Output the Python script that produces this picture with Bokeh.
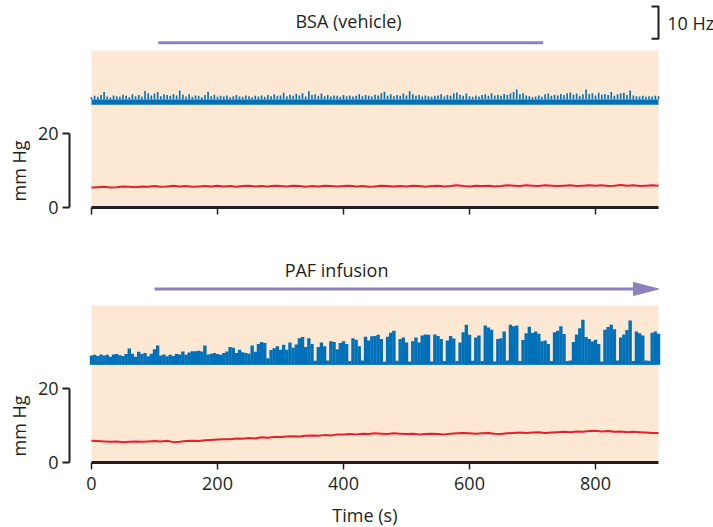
from bokeh.plotting import figure
from bokeh.models import Range1d, FixedTicker, Title
from bokeh.layouts import column
from bokeh.embed import file_html
from bokeh.resources import INLINE
from bokeh.core.properties import value

FONT = "Open Sans"
INK = "#231f20"
PEACH = "#fde8d3"
BLUE = "#0071b9"
RED = "#e4202a"
PURPLE = "#8a83c0"

# ---------------- data ----------------
T_MAX = 900
x_ticks = [0, 200, 400, 600, 800]
y_ticks = [0, 20]
bg_top = 42.4                     # top of the shaded recording window (panel units)

blue_t = list(range(0, 905, 5))   # frequency trace samples (s)
# vehicle (BSA) frequency trace: spike tops above the steady band
top_band = (27.8, 29.2)
top_blue = [
    29.8, 30.2, 29.9, 30.4, 31.2, 30.0, 29.7, 30.3, 30.1, 29.9,
    30.5, 30.2, 29.8, 30.6, 30.1, 30.4, 30.0, 31.5, 30.9, 30.3,
    30.8, 31.2, 30.1, 30.6, 30.4, 30.2, 30.7, 30.3, 31.6, 30.5,
    30.0, 30.6, 29.9, 30.3, 30.2, 29.8, 30.4, 31.3, 30.1, 30.5,
    29.9, 30.2, 30.0, 30.3, 29.8, 30.1, 30.4, 30.0, 29.9, 30.3,
    30.1, 29.8, 30.2, 30.0, 30.3, 29.9, 30.4, 30.1, 30.6, 30.2,
    30.3, 31.0, 30.1, 30.5, 30.2, 30.7, 30.3, 30.9, 30.0, 31.4,
    30.4, 30.6, 30.2, 30.8, 30.1, 30.4, 30.0, 30.3, 30.2, 29.9,
    30.4, 30.1, 30.3, 30.0, 30.2, 30.6, 30.1, 30.4, 30.2, 30.0,
    30.5, 30.3, 30.9, 31.3, 30.2, 30.6, 30.1, 30.4, 30.2, 30.8,
    30.3, 31.4, 30.6, 30.2, 30.4, 30.0, 30.3, 30.1, 29.9, 30.2,
    30.3, 30.6, 30.0, 30.4, 30.2, 30.9, 31.1, 30.5, 30.2, 30.8,
    30.1, 29.9, 30.3, 30.0, 30.4, 30.6, 30.2, 30.9, 30.3, 30.5,
    30.2, 30.7, 30.4, 30.8, 31.2, 31.9, 30.6, 30.9, 30.3, 30.1,
    29.8, 30.0, 30.3, 29.9, 30.6, 30.8, 30.2, 30.5, 30.3, 30.7,
    30.4, 30.9, 31.1, 30.5, 30.8, 30.2, 30.6, 31.9, 30.7, 30.9,
    30.3, 31.0, 30.5, 30.7, 30.4, 31.2, 30.2, 30.6, 30.9, 31.0,
    30.4, 31.6, 30.3, 30.1, 30.0, 30.2, 29.9, 30.1, 30.0, 30.2,
    30.1,
]
# PAF infusion frequency trace: burst tops above the baseline
bottom_base = 26.4
bottom_blue = [
    28.9, 29.1, 28.8, 29.2, 28.9, 29.1, 28.6, 29.2, 29.3, 29.0,
    28.8, 29.3, 30.8, 29.4, 28.6, 29.9, 29.3, 29.6, 28.7, 29.4,
    30.6, 31.6, 28.9, 29.2, 28.7, 29.1, 28.8, 29.3, 29.2, 30.0,
    29.1, 29.7, 30.1, 30.1, 30.2, 30.0, 31.6, 29.2, 29.4, 29.6,
    29.3, 29.1, 29.6, 30.0, 31.2, 31.0, 29.6, 30.5, 29.8, 29.6,
    29.4, 31.6, 29.9, 32.0, 32.6, 32.3, 28.2, 30.4, 30.9, 31.4,
    30.5, 31.8, 30.5, 32.4, 31.0, 31.9, 33.6, 33.9, 31.2, 33.6,
    32.0, 27.5, 31.2, 32.4, 31.4, 27.6, 32.8, 32.6, 30.6, 32.3,
    32.8, 32.0, 27.4, 33.6, 33.2, 31.4, 27.6, 34.0, 33.0, 34.1,
    34.2, 34.5, 33.4, 27.2, 34.0, 35.1, 35.6, 27.5, 33.4, 33.8,
    32.4, 27.3, 32.8, 33.8, 32.4, 34.3, 34.6, 34.5, 27.3, 34.6,
    34.2, 33.4, 27.4, 33.0, 34.2, 33.5, 27.4, 32.4, 35.2, 37.2,
    34.5, 27.5, 33.8, 34.3, 27.4, 37.0, 36.5, 35.9, 27.3, 33.4,
    33.6, 35.4, 27.6, 37.2, 36.8, 37.0, 27.4, 33.1, 34.9, 36.7,
    35.0, 35.4, 34.8, 32.8, 33.0, 32.0, 27.4, 35.2, 35.6, 36.8,
    34.7, 27.4, 27.6, 32.6, 34.6, 36.3, 38.6, 33.9, 33.4, 32.7,
    33.2, 32.0, 27.3, 35.9, 36.6, 37.2, 36.0, 27.6, 33.8, 34.6,
    35.8, 38.4, 27.4, 35.4, 34.9, 34.3, 27.6, 27.5, 35.1, 35.4,
    34.8,
]

red_t = list(range(0, 910, 10))   # pressure trace samples (s), mm Hg
top_red = [
    5.4, 5.5, 5.6, 5.4, 5.5, 5.7, 5.6, 5.5, 5.7, 5.6,
    5.8, 5.6, 5.7, 5.9, 5.7, 5.8, 5.6, 5.7, 5.8, 5.7,
    5.9, 5.7, 5.8, 5.6, 5.8, 5.9, 5.7, 5.8, 5.7, 5.9,
    5.8, 5.7, 5.9, 5.8, 5.6, 5.8, 5.7, 5.9, 5.8, 5.7,
    5.8, 5.9, 5.7, 5.8, 5.6, 5.7, 5.9, 5.8, 5.7, 5.8,
    5.7, 5.9, 5.8, 5.6, 5.8, 5.9, 5.7, 5.8, 6.0, 5.8,
    5.7, 5.9, 5.8, 5.9, 5.7, 5.8, 6.0, 5.9, 5.8, 6.0,
    5.9, 5.8, 6.0, 5.9, 5.8, 5.9, 6.0, 5.8, 5.9, 6.0,
    5.9, 6.0, 5.8, 5.9, 6.1, 5.9, 6.0, 5.8, 5.9, 6.0,
    5.9,
]
bottom_red = [
    5.9, 5.8, 5.7, 5.6, 5.7, 5.5, 5.6, 5.7, 5.6, 5.7,
    5.8, 5.7, 5.9, 5.5, 5.6, 5.8, 5.9, 5.8, 6.0, 6.1,
    6.2, 6.3, 6.3, 6.5, 6.4, 6.6, 6.5, 6.8, 6.7, 6.9,
    6.9, 7.0, 7.1, 7.0, 7.2, 7.3, 7.2, 7.4, 7.3, 7.6,
    7.6, 7.7, 7.6, 7.8, 7.7, 7.9, 7.8, 7.7, 7.9, 7.8,
    7.7, 7.8, 7.6, 7.7, 7.8, 7.7, 7.6, 7.8, 7.9, 8.0,
    7.9, 7.8, 7.9, 8.0, 7.8, 7.7, 7.9, 8.0, 8.1, 8.0,
    8.1, 8.2, 8.0, 8.1, 8.2, 8.3, 8.2, 8.4, 8.3, 8.5,
    8.6, 8.4, 8.5, 8.3, 8.4, 8.2, 8.3, 8.2, 8.1, 8.0,
    8.0,
]

bsa_label = "BSA (vehicle)"
bsa_span = (106, 717)
bsa_y = 44.5
bsa_text_pos = (408, 50.5)
paf_label = "PAF infusion"
paf_span = (100, 900)
paf_y = 46.9
paf_text_pos = (389, 51.9)
hz_label = "10 Hz"
hz_bar = 10          # Hz
hz_unit = 0.87       # panel units per Hz
hz_top = 54.3
y_label = "mm Hg"
x_label = "Time (s)"
x_label_t = 434      # centre of the time-axis title (s)

# ---------------- layout ----------------
W = 713
LEFT = 69
PX_PER_S = 0.63
PX_PER_U = 3.7
X0 = -22 / PX_PER_S
X1 = X0 + (W - LEFT) / PX_PER_S


def make_fig(height, frame_h, bottom_border, show_labels):
    p = figure(width=W, height=height,
               x_range=Range1d(X0, X1), y_range=Range1d(0, frame_h / PX_PER_U),
               output_backend="svg", toolbar_location=None,
               min_border_left=LEFT, min_border_right=0, min_border_top=0,
               min_border_bottom=bottom_border)
    p.outline_line_color = None
    p.xgrid.visible = False
    p.ygrid.visible = False
    p.background_fill_color = "white"
    p.border_fill_color = "white"

    ya = p.yaxis[0]
    ya.bounds = (0, 20)
    ya.ticker = FixedTicker(ticks=y_ticks)
    ya.minor_tick_line_color = None
    ya.major_tick_in = 0
    ya.major_tick_out = 7
    ya.major_tick_line_width = 2
    ya.major_tick_line_color = INK
    ya.axis_line_width = 2
    ya.axis_line_color = INK
    ya.major_label_text_font = FONT
    ya.major_label_text_font_size = "18px"
    ya.major_label_text_color = INK
    ya.major_label_standoff = 4

    # rotated axis title, placed along the 0-20 scale
    p.add_layout(Title(text=y_label, align="left", offset=6,
                       vertical_align="bottom", standoff=7,
                       text_font=FONT, text_font_size="18px",
                       text_font_style="normal", text_color=INK), "left")

    xa = p.xaxis[0]
    xa.bounds = (0, T_MAX)
    xa.ticker = FixedTicker(ticks=x_ticks)
    xa.minor_tick_line_color = None
    xa.major_tick_in = 0
    xa.major_tick_out = 7
    xa.major_tick_line_width = 1.5
    xa.major_tick_line_color = INK
    xa.axis_line_width = 3
    xa.axis_line_color = INK
    xa.major_label_text_font = FONT
    if show_labels:
        xa.major_label_text_color = INK
        xa.major_label_text_font_size = "18px"
        xa.major_label_standoff = 7
    else:
        xa.major_label_text_color = None
        xa.major_label_text_font_size = "1px"
        xa.major_label_standoff = 0

    p.quad(left=[0], right=[T_MAX], bottom=[0], top=[bg_top],
           fill_color=PEACH, line_color=None)
    return p


# top panel: vehicle
p1 = make_fig(230, 207, 23, False)
p1.quad(left=[0], right=[T_MAX], bottom=[top_band[0]], top=[top_band[1]],
        fill_color=BLUE, line_color=None)
p1.vbar(x=blue_t, width=2.6, bottom=top_band[1], top=top_blue,
        fill_color=BLUE, line_color=None)
p1.line(red_t, top_red, line_width=2, line_color=RED)
p1.line(list(bsa_span), [bsa_y, bsa_y], line_width=3, line_color=PURPLE)
p1.text(x=[bsa_text_pos[0]], y=[bsa_text_pos[1]], text=[bsa_label],
        text_font=value(FONT), text_font_size="18px", text_color=INK,
        text_align="center", text_baseline="middle")
hz_bottom = hz_top - hz_bar * hz_unit
hz_tick = 7 / PX_PER_S
p1.line([T_MAX - hz_tick, T_MAX, T_MAX, T_MAX - hz_tick],
        [hz_top, hz_top, hz_bottom, hz_bottom], line_width=2, line_color=INK)
p1.text(x=[T_MAX + 14], y=[(hz_top + hz_bottom) / 2], text=[hz_label],
        text_font=value(FONT), text_font_size="18px", text_color=INK,
        text_align="left", text_baseline="middle")

# bottom panel: PAF infusion
p2 = make_fig(270, 232, 38, True)
p2.vbar(x=blue_t, width=5.4, bottom=bottom_base, top=bottom_blue,
        fill_color=BLUE, line_color=None)
p2.line([0, T_MAX], [bottom_base + 0.3, bottom_base + 0.3], line_width=1.5,
        line_color=BLUE)
p2.line(red_t, bottom_red, line_width=2, line_color=RED)
head_len = 25 / PX_PER_S
head_half = 6.5 / PX_PER_U
p2.line([paf_span[0], paf_span[1] - head_len], [paf_y, paf_y], line_width=3,
        line_color=PURPLE)
p2.patch([paf_span[1] - head_len, paf_span[1], paf_span[1] - head_len],
         [paf_y + head_half, paf_y, paf_y - head_half],
         fill_color=PURPLE, line_color=PURPLE)
p2.text(x=[paf_text_pos[0]], y=[paf_text_pos[1]], text=[paf_label],
        text_font=value(FONT), text_font_size="18px", text_color=INK,
        text_align="center", text_baseline="middle")

# strip under the lower panel carrying the time-axis title
H3 = 27
p3 = figure(width=W, height=H3, x_range=Range1d(X0, X1), y_range=Range1d(0, H3),
            output_backend="svg", toolbar_location=None,
            x_axis_location=None, y_axis_location=None,
            min_border_left=LEFT, min_border_right=0, min_border_top=0,
            min_border_bottom=0)
p3.outline_line_color = None
p3.xgrid.visible = False
p3.ygrid.visible = False
p3.text(x=[x_label_t], y=[H3 - 14], text=[x_label],
        text_font=value(FONT), text_font_size="18px", text_color=INK,
        text_align="center", text_baseline="middle")

layout = column(p1, p2, p3)
open("out.html", "w").write(file_html(layout, INLINE))
